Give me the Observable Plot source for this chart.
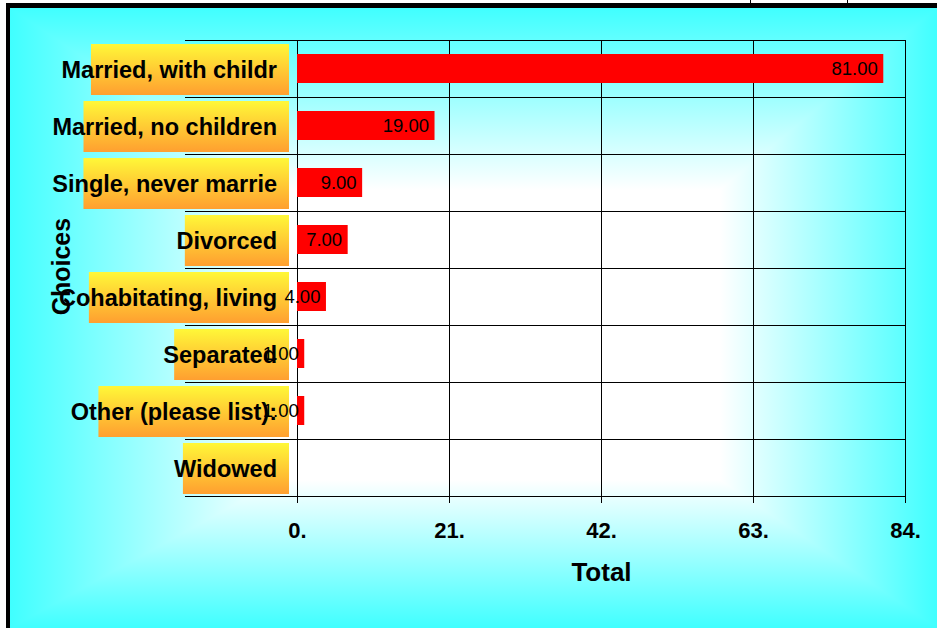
<!DOCTYPE html>
<html>
<head>
<meta charset="utf-8">
<script src="https://cdn.jsdelivr.net/npm/d3@7"></script>
<script src="https://cdn.jsdelivr.net/npm/@observablehq/plot@0.6"></script>
<style>
  html, body { margin: 0; padding: 0; background: white; }
  #chart { position: relative; width: 937px; height: 628px; overflow: hidden; background: white; }
  #chart .band { position: absolute; background: black; }
  #bg {
    position: absolute; left: 10px; top: 8px; right: 0; bottom: 0;
    background:
      linear-gradient(to right, #40ffff 0px, #ffffff 270px, #ffffff 710px, #40ffff 927px),
      linear-gradient(to bottom, #40ffff 0px, #ffffff 182px, #ffffff 472px, #40ffff 620px);
    background-blend-mode: darken;
  }
  #plot { position: absolute; left: 10px; top: 8px; }
</style>
</head>
<body>
<div id="chart">
  <div id="bg"></div>
  <div class="band" style="left:6px;top:3px;right:0;height:5px"></div>
  <div class="band" style="left:6px;top:3px;width:4px;bottom:0"></div>
  <div class="band" style="left:750px;top:0;width:1px;height:3px"></div>
  <div class="band" style="left:847px;top:0;width:1px;height:4px"></div>
  <div id="plot"></div>
</div>
<script>
// ---- data ----
const choices = [
  "Married, with childr",
  "Married, no children",
  "Single, never marrie",
  "Divorced",
  "Cohabitating, living",
  "Separated",
  "Other (please list):",
  "Widowed"
];
const totals = [81, 19, 9, 7, 4, 1, 1, 0];
const xTicks = [0, 21, 42, 63, 84];
const xTitle = "Total";
const yTitle = "Choices";

const rows = choices.map((c, i) => ({choice: c, total: totals[i]}));

const FONT = "'Liberation Sans', Arial, sans-serif";
const LABEL_FONT_SIZE = 23.5;

// horizontal separators at band boundaries (extend left under the labels)
function bandLines(index, scales, values, dims) {
  const x = scales.x, y = scales.y;
  const bw = y.bandwidth ? y.bandwidth() : (dims.height - dims.marginTop - dims.marginBottom) / choices.length;
  const xl = x(xTicks[0]) - 112;
  const xr = x(xTicks[xTicks.length - 1]);
  const ys = choices.map(c => y(c));
  ys.push(y(choices[choices.length - 1]) + bw);
  const g = d3.create("svg:g");
  g.selectAll("line").data(ys).join("line")
    .attr("x1", xl).attr("x2", xr)
    .attr("y1", d => Math.round(d) + 0.5).attr("y2", d => Math.round(d) + 0.5)
    .attr("stroke", "black").attr("stroke-width", 1);
  return g.node();
}

// yellow-orange gradient boxes behind category labels, and the labels
function categoryLabels(index, scales, values, dims) {
  const x = scales.x, y = scales.y;
  const bw = y.bandwidth ? y.bandwidth() : (dims.height - dims.marginTop - dims.marginBottom) / choices.length;
  const ctx = document.createElement("canvas").getContext("2d");
  ctx.font = `bold ${LABEL_FONT_SIZE}px ${FONT}`;
  const g = d3.create("svg:g");
  const grad = g.append("defs").append("linearGradient")
    .attr("id", "boxGrad").attr("x1", 0).attr("y1", 0).attr("x2", 0).attr("y2", 1);
  grad.append("stop").attr("offset", "0%").attr("stop-color", "#fff838");
  grad.append("stop").attr("offset", "50%").attr("stop-color", "#ffcb34");
  grad.append("stop").attr("offset", "100%").attr("stop-color", "#ff9f30");
  const x0 = x(xTicks[0]);
  for (const c of choices) {
    const w = ctx.measureText(c).width;
    const boxW = 0.817 * w + 22;
    const top = y(c);
    g.append("rect")
      .attr("x", x0 - 8 - boxW).attr("y", top + 4)
      .attr("width", boxW).attr("height", bw - 6)
      .attr("fill", "url(#boxGrad)");
    g.append("text")
      .attr("x", x0 - 20).attr("y", top + bw / 2 + 9.5)
      .attr("text-anchor", "end")
      .attr("font-family", FONT).attr("font-weight", "bold")
      .attr("font-size", LABEL_FONT_SIZE)
      .attr("fill", "black")
      .text(c);
  }
  return g.node();
}

const chart = Plot.plot({
  width: 927,
  height: 620,
  marginLeft: 287,
  marginRight: 32,
  marginTop: 32,
  marginBottom: 132,
  style: {background: "transparent", fontFamily: FONT, overflow: "visible", color: "black"},
  x: {domain: [xTicks[0], xTicks[xTicks.length - 1]], axis: null},
  y: {domain: choices, padding: 0, axis: null},
  marks: [
    Plot.gridX(xTicks.slice(1), {stroke: "black", strokeOpacity: 1, strokeWidth: 1}),
    bandLines,
    Plot.ruleX([xTicks[0]], {stroke: "black", strokeWidth: 1}),
    Plot.barX(rows, {x: "total", y: "choice", fill: "#ff0000", insetTop: 14, insetBottom: 14}),
    categoryLabels,
    Plot.text(rows.filter(d => d.total > 0), {
      x: "total", y: "choice", text: d => d.total.toFixed(2),
      textAnchor: "end", dx: -6, fontSize: 18.5, fill: "black"
    }),
    Plot.axisX({
      ticks: xTicks, tickFormat: d => d + ".", tickSize: 7, tickPadding: 19,
      fontSize: 22, fontWeight: "bold", label: null, anchor: "bottom"
    }),
    Plot.text([xTitle], {
      frameAnchor: "bottom", lineAnchor: "bottom", dy: 84,
      fontSize: 26, fontWeight: "bold", fill: "black"
    }),
    Plot.text([yTitle], {
      frameAnchor: "left", textAnchor: "middle", rotate: -90, dx: -236, dy: -2,
      fontSize: 25, fontWeight: "bold", fill: "black"
    })
  ]
});

document.getElementById("plot").appendChild(chart);
</script>
</body>
</html>
